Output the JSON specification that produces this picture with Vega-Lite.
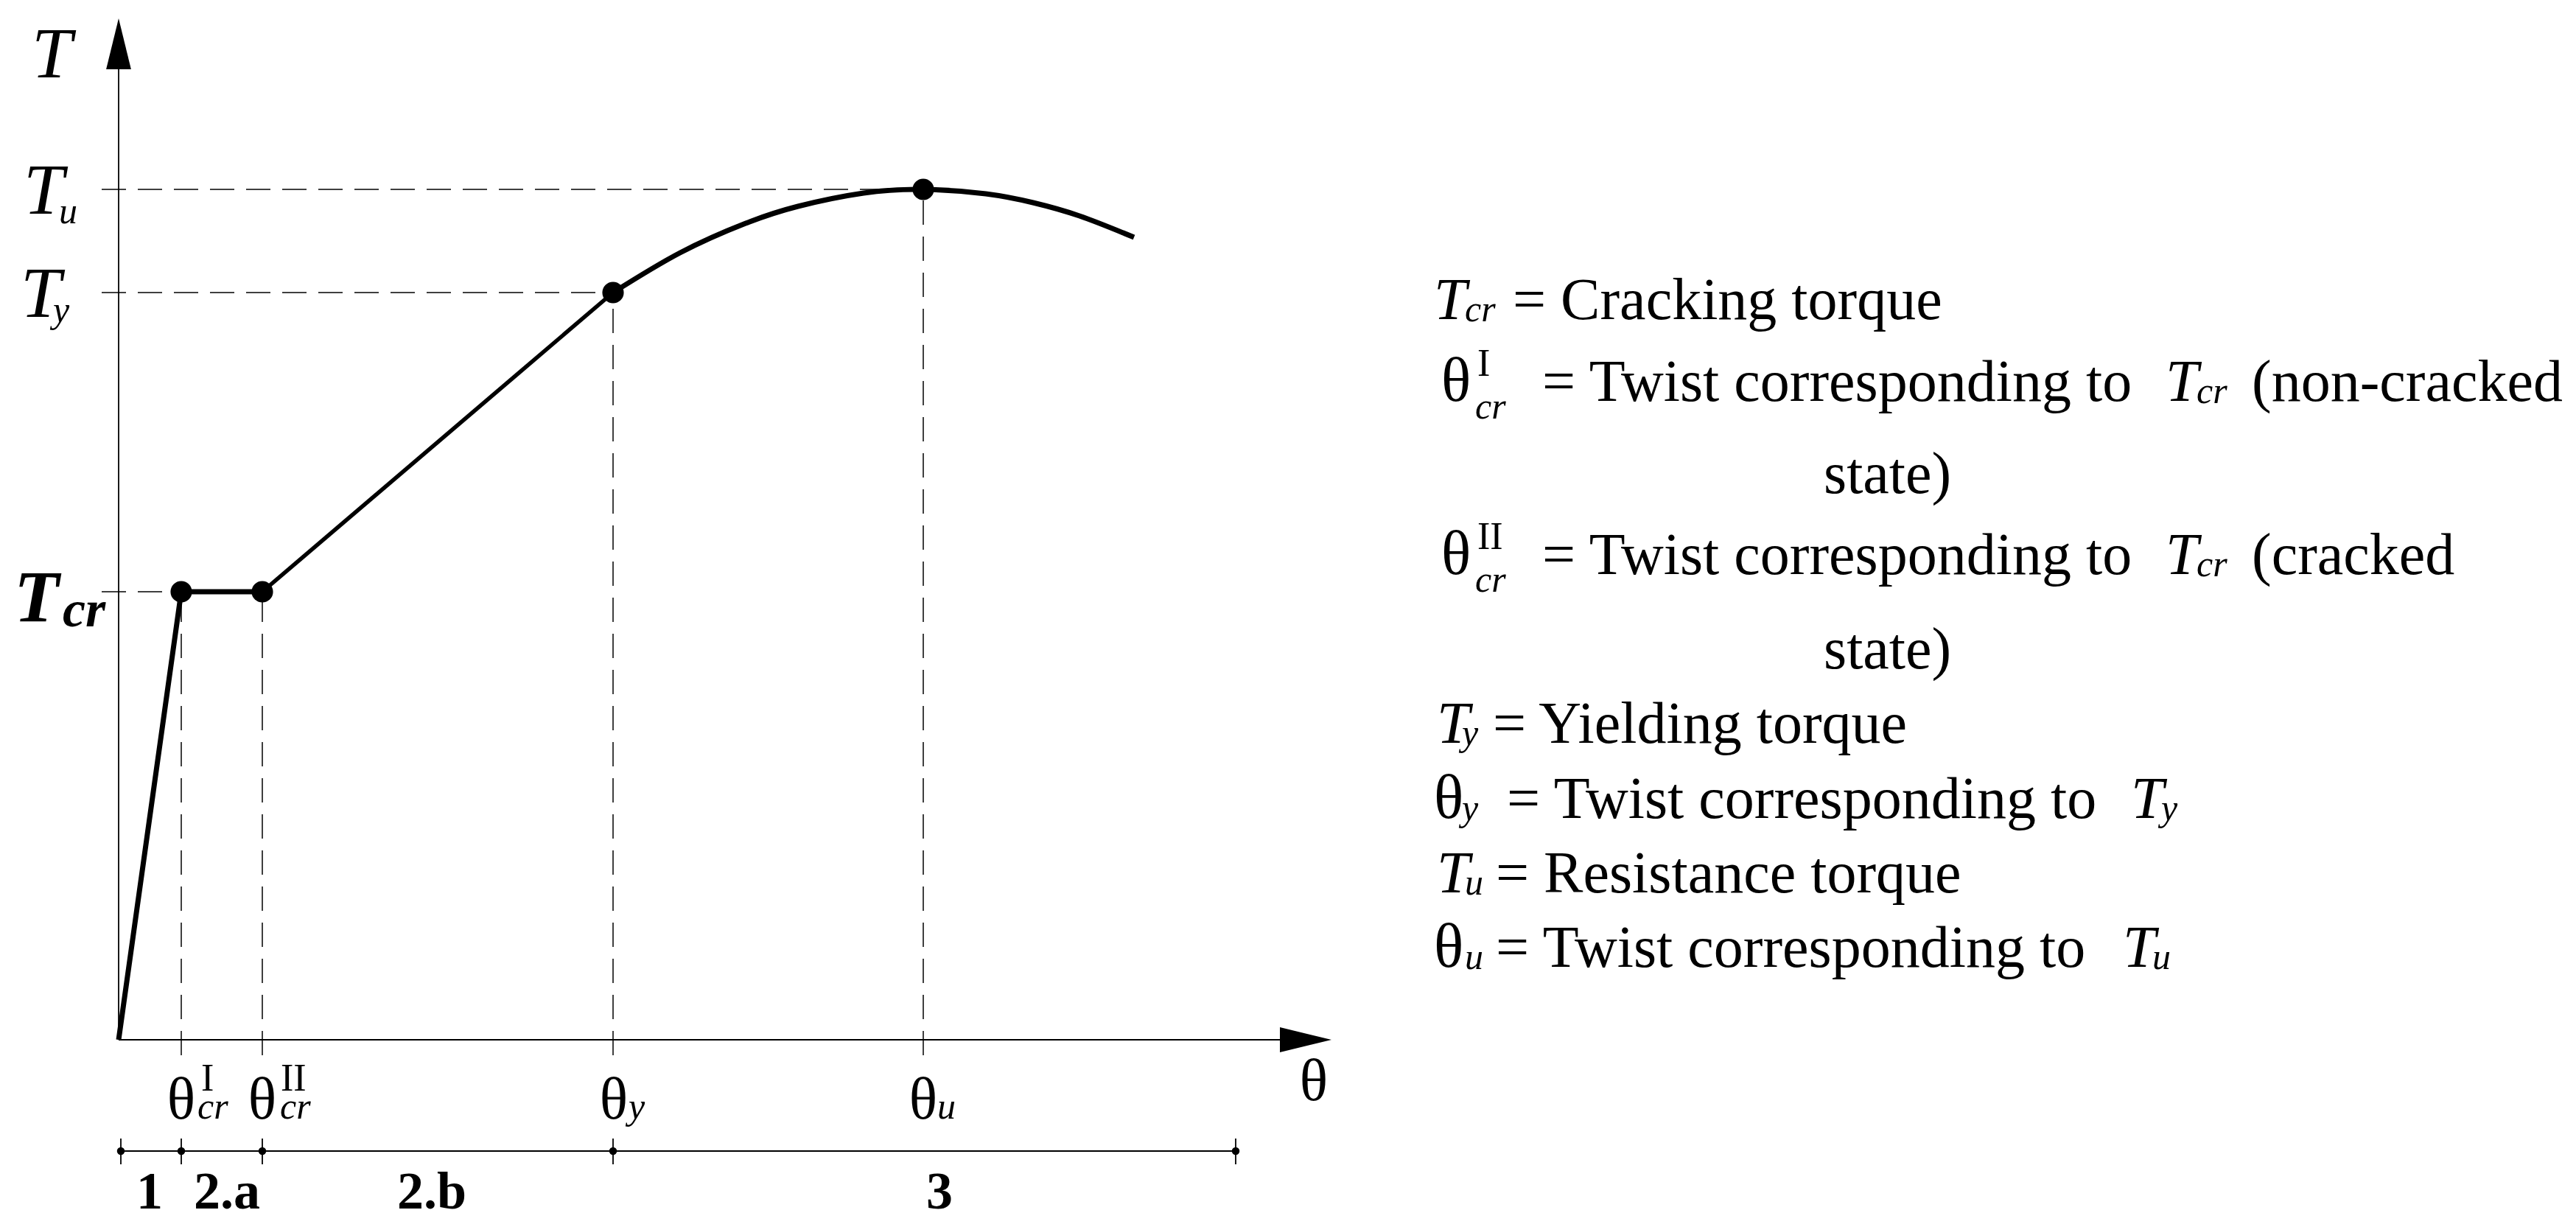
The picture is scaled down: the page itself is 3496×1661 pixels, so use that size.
{
  "$schema": "https://vega.github.io/schema/vega-lite/v6.json",
  "width": 3496,
  "height": 1661,
  "autosize": {"type": "fit", "contains": "padding"},
  "padding": 0,
  "background": "white",
  "config": {"view": {"stroke": null}},
  "datasets": {
    "dash": [
      {"x": -2.3, "y": 60.8, "x2": 8.5, "y2": 60.8},
      {"x": -2.3, "y": 101.4, "x2": 67.1, "y2": 101.4},
      {"x": -2.3, "y": 115.4, "x2": 109.2, "y2": 115.4},
      {"x": 8.5, "y": -2.1, "x2": 8.5, "y2": 60.8},
      {"x": 19.5, "y": -2.1, "x2": 19.5, "y2": 60.8},
      {"x": 67.1, "y": -2.1, "x2": 67.1, "y2": 101.4},
      {"x": 109.2, "y": -2.1, "x2": 109.2, "y2": 115.4}
    ],
    "solid": [
      {"x": 0, "y": 0, "x2": 0, "y2": 131.7},
      {"x": 0, "y": 0, "x2": 157.6, "y2": 0},
      {"x": 0.3, "y": -15.1, "x2": 151.6, "y2": -15.1},
      {"x": 0.3, "y": -13.4, "x2": 0.3, "y2": -16.9},
      {"x": 8.5, "y": -13.4, "x2": 8.5, "y2": -16.9},
      {"x": 19.5, "y": -13.4, "x2": 19.5, "y2": -16.9},
      {"x": 67.1, "y": -13.4, "x2": 67.1, "y2": -16.9},
      {"x": 151.6, "y": -13.4, "x2": 151.6, "y2": -16.9}
    ],
    "stage1": [
      {"x": 0, "y": 0},
      {"x": 8.5, "y": 60.8},
      {"x": 19.5, "y": 60.8}
    ],
    "stage2": [
      {"x": 19.5, "y": 60.8},
      {"x": 67.1, "y": 101.4}
    ],
    "stage3": [
      {"x": 67.1, "y": 101.4},
      {"x": 76.2, "y": 106.8},
      {"x": 85.1, "y": 110.8},
      {"x": 92.2, "y": 113.1},
      {"x": 101.1, "y": 114.9},
      {"x": 109.2, "y": 115.4},
      {"x": 117.7, "y": 114.8},
      {"x": 124.1, "y": 113.6},
      {"x": 130.4, "y": 111.8},
      {"x": 137.8, "y": 108.9}
    ],
    "keyPoints": [
      {"x": 8.5, "y": 60.8},
      {"x": 19.5, "y": 60.8},
      {"x": 67.1, "y": 101.4},
      {"x": 109.2, "y": 115.4}
    ],
    "stageDots": [
      {"x": 0.3, "y": -15.1},
      {"x": 8.5, "y": -15.1},
      {"x": 19.5, "y": -15.1},
      {"x": 67.1, "y": -15.1},
      {"x": 151.6, "y": -15.1}
    ],
    "arrowUp": [{"x": 0, "y": 135.15}],
    "arrowRight": [{"x": 161.1, "y": 0}],
    "thetaAxis": [
      {"x": 8.5, "y": -10.7, "t": "θ"},
      {"x": 19.5, "y": -10.7, "t": "θ"},
      {"x": 67.2, "y": -10.7, "t": "θ"},
      {"x": 109.2, "y": -10.7, "t": "θ"},
      {"x": 162.2, "y": -8.2, "t": "θ"}
    ],
    "thetaLegend": [
      {"x": 179.5, "y": 86.7, "t": "θ"},
      {"x": 179.5, "y": 63.2, "t": "θ"},
      {"x": 178.5, "y": 30.1, "t": "θ"},
      {"x": 178.5, "y": 9.9, "t": "θ"}
    ],
    "sups": [
      {"x": 11.2, "y": -6.9, "t": "I"},
      {"x": 22.0, "y": -6.9, "t": "II"},
      {"x": 184.4, "y": 90.1, "t": "I"},
      {"x": 184.4, "y": 66.6, "t": "II"}
    ],
    "subs": [
      {"x": 10.7, "y": -10.7, "t": "cr"},
      {"x": 21.9, "y": -10.7, "t": "cr"},
      {"x": 69.2, "y": -10.7, "t": "y"},
      {"x": 111.1, "y": -10.7, "t": "u"},
      {"x": -8.1, "y": 110.8, "t": "u"},
      {"x": -8.9, "y": 97.4, "t": "y"},
      {"x": 182.7, "y": 97.5, "t": "cr"},
      {"x": 184.1, "y": 84.3, "t": "cr"},
      {"x": 282.0, "y": 86.4, "t": "cr"},
      {"x": 184.1, "y": 60.8, "t": "cr"},
      {"x": 282.0, "y": 62.9, "t": "cr"},
      {"x": 182.3, "y": 40.0, "t": "y"},
      {"x": 182.3, "y": 29.8, "t": "y"},
      {"x": 277.2, "y": 29.8, "t": "y"},
      {"x": 182.7, "y": 19.7, "t": "u"},
      {"x": 182.7, "y": 9.6, "t": "u"},
      {"x": 276.0, "y": 9.6, "t": "u"}
    ],
    "bigT": [
      {"x": -11.8, "y": 130.6, "t": "T"},
      {"x": -12.9, "y": 112.1, "t": "T"},
      {"x": -13.3, "y": 98.1, "t": "T"}
    ],
    "tcrT": [{"x": -14.2, "y": 56.8, "t": "T"}],
    "tcrSub": [{"x": -7.6, "y": 56.1, "t": "cr"}],
    "legendItalic": [
      {"x": 178.5, "y": 97.8, "t": "T"},
      {"x": 277.8, "y": 86.7, "t": "T"},
      {"x": 277.8, "y": 63.2, "t": "T"},
      {"x": 178.9, "y": 40.3, "t": "T"},
      {"x": 273.1, "y": 30.1, "t": "T"},
      {"x": 178.9, "y": 20.0, "t": "T"},
      {"x": 272.0, "y": 9.9, "t": "T"}
    ],
    "legendRoman": [
      {"x": 189.2, "y": 97.8, "t": "= Cracking torque"},
      {"x": 193.2, "y": 86.7, "t": "= Twist corresponding to"},
      {"x": 289.5, "y": 86.7, "t": "(non-cracked"},
      {"x": 231.4, "y": 74.2, "t": "state)"},
      {"x": 193.2, "y": 63.2, "t": "= Twist corresponding to"},
      {"x": 289.5, "y": 63.2, "t": "(cracked"},
      {"x": 231.4, "y": 50.4, "t": "state)"},
      {"x": 186.5, "y": 40.3, "t": "= Yielding torque"},
      {"x": 188.4, "y": 30.1, "t": "= Twist corresponding to"},
      {"x": 186.9, "y": 20.0, "t": "= Resistance torque"},
      {"x": 186.9, "y": 9.9, "t": "= Twist corresponding to"}
    ],
    "stages": [
      {"x": 4.2, "y": -22.9, "t": "1"},
      {"x": 14.7, "y": -22.9, "t": "2.a"},
      {"x": 42.5, "y": -22.9, "t": "2.b"},
      {"x": 111.4, "y": -22.9, "t": "3"}
    ]
  },
  "encoding": {
    "x": {"field": "x", "type": "quantitative", "scale": {"domain": [-16.1, 333.5], "nice": false, "zero": false}, "axis": null},
    "y": {"field": "y", "type": "quantitative", "scale": {"domain": [-25, 141.1], "nice": false, "zero": false}, "axis": null}
  },
  "layer": [
    {
      "data": {"name": "dash"},
      "mark": {"type": "rule", "color": "black", "strokeWidth": 1.5, "strokeDash": [33, 16]},
      "encoding": {"x2": {"field": "x2"}, "y2": {"field": "y2"}}
    },
    {
      "data": {"name": "solid"},
      "mark": {"type": "rule", "color": "black", "strokeWidth": 1.8},
      "encoding": {"x2": {"field": "x2"}, "y2": {"field": "y2"}}
    },
    {
      "data": {"name": "stage1"},
      "mark": {"type": "line", "color": "black", "strokeWidth": 7, "strokeJoin": "round"},
      "encoding": {}
    },
    {
      "data": {"name": "stage2"},
      "mark": {"type": "line", "color": "black", "strokeWidth": 5.5},
      "encoding": {}
    },
    {
      "data": {"name": "stage3"},
      "mark": {"type": "line", "color": "black", "strokeWidth": 7, "interpolate": "natural"},
      "encoding": {}
    },
    {
      "data": {"name": "keyPoints"},
      "mark": {"type": "circle", "color": "black", "size": 850, "opacity": 1}
    },
    {
      "data": {"name": "stageDots"},
      "mark": {"type": "circle", "color": "black", "size": 110, "opacity": 1}
    },
    {
      "data": {"name": "arrowUp"},
      "mark": {"type": "point", "shape": "M0,-1L0.49,1L-0.49,1Z", "filled": true, "color": "black", "size": 4761, "opacity": 1, "strokeWidth": 0}
    },
    {
      "data": {"name": "arrowRight"},
      "mark": {"type": "point", "shape": "M1,0L-1,0.486L-1,-0.486Z", "filled": true, "color": "black", "size": 4900, "opacity": 1, "strokeWidth": 0}
    },
    {
      "data": {"name": "thetaAxis"},
      "mark": {"type": "text", "font": "Liberation Serif", "fontSize": 80, "align": "center", "baseline": "alphabetic", "color": "black"},
      "encoding": {"text": {"field": "t"}}
    },
    {
      "data": {"name": "thetaLegend"},
      "mark": {"type": "text", "font": "Liberation Serif", "fontSize": 84, "align": "left", "baseline": "alphabetic", "color": "black"},
      "encoding": {"text": {"field": "t"}}
    },
    {
      "data": {"name": "sups"},
      "mark": {"type": "text", "font": "Liberation Serif", "fontSize": 52, "align": "left", "baseline": "alphabetic", "color": "black"},
      "encoding": {"text": {"field": "t"}}
    },
    {
      "data": {"name": "subs"},
      "mark": {"type": "text", "font": "Liberation Serif", "fontStyle": "italic", "fontSize": 50, "align": "left", "baseline": "alphabetic", "color": "black"},
      "encoding": {"text": {"field": "t"}}
    },
    {
      "data": {"name": "bigT"},
      "mark": {"type": "text", "font": "Liberation Serif", "fontStyle": "italic", "fontSize": 98, "align": "left", "baseline": "alphabetic", "color": "black"},
      "encoding": {"text": {"field": "t"}}
    },
    {
      "data": {"name": "tcrT"},
      "mark": {"type": "text", "font": "Liberation Serif", "fontStyle": "italic", "fontWeight": "bold", "fontSize": 100, "align": "left", "baseline": "alphabetic", "color": "black"},
      "encoding": {"text": {"field": "t"}}
    },
    {
      "data": {"name": "tcrSub"},
      "mark": {"type": "text", "font": "Liberation Serif", "fontStyle": "italic", "fontWeight": "bold", "fontSize": 70, "align": "left", "baseline": "alphabetic", "color": "black"},
      "encoding": {"text": {"field": "t"}}
    },
    {
      "data": {"name": "legendItalic"},
      "mark": {"type": "text", "font": "Liberation Serif", "fontStyle": "italic", "fontSize": 80, "align": "left", "baseline": "alphabetic", "color": "black"},
      "encoding": {"text": {"field": "t"}}
    },
    {
      "data": {"name": "legendRoman"},
      "mark": {"type": "text", "font": "Liberation Serif", "fontSize": 80, "align": "left", "baseline": "alphabetic", "color": "black"},
      "encoding": {"text": {"field": "t"}}
    },
    {
      "data": {"name": "stages"},
      "mark": {"type": "text", "font": "Liberation Serif", "fontWeight": "bold", "fontSize": 72, "align": "center", "baseline": "alphabetic", "color": "black"},
      "encoding": {"text": {"field": "t"}}
    }
  ]
}
